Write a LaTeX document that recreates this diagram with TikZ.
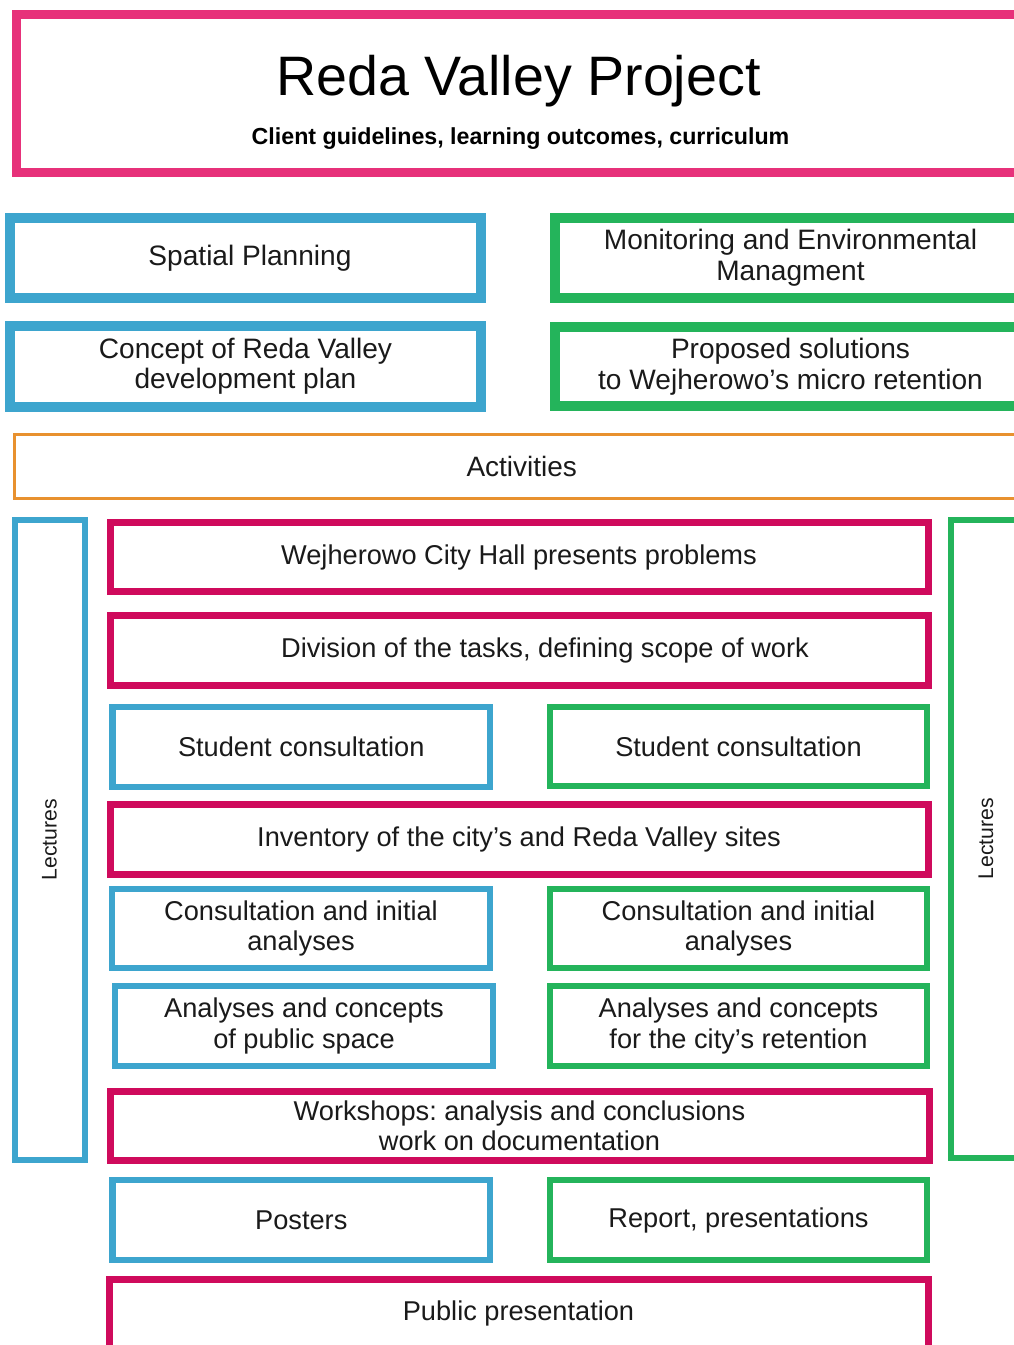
\documentclass[tikz,border=0pt]{standalone}
\usepackage{fontspec}
\setmainfont{Liberation Sans}
\definecolor{pinkT}{HTML}{E7317A}
\definecolor{crim}{HTML}{CF0A5C}
\definecolor{bluec}{HTML}{3DA5CE}
\definecolor{greenc}{HTML}{24B45B}
\definecolor{orangec}{HTML}{E8912F}
\definecolor{txt}{HTML}{1A1A1A}
\tikzset{
  box/.style={draw, rectangle, align=center, inner sep=0pt, text=txt,
    font=\fontsize{27.2}{30.5}\selectfont\frenchspacing},
  bigb/.style={box, line width=10pt, font=\fontsize{28.1}{30.5}\selectfont\frenchspacing},
  rowb/.style={box, line width=6.5pt},
  pinkrow/.style={rowb, draw=crim, line width=7pt},
  bluerow/.style={rowb, draw=bluec},
  greenrow/.style={rowb, draw=greenc},
  lect/.style={box, line width=6pt, rotate=90, font=\fontsize{21.2}{24}\selectfont},
}
\begin{document}
\frenchspacing
\begin{tikzpicture}[x=1pt,y=-1pt]
\useasboundingbox (0,0) rectangle (1014,1345);
\fill[white] (0,0) rectangle (1014,1345);
\clip (0,0) rectangle (1014,1345);

% title
\node[box, draw=pinkT, line width=9pt, minimum width=1005, minimum height=157.5] (title) at (519,93.25) {};
\node[anchor=base, text=black, font=\fontsize{55.6}{60}\selectfont, inner sep=0pt] (ttext) at (518.5,95) {Reda Valley Project};
\node[anchor=base, text=black, font=\fontsize{23.2}{26}\selectfont\bfseries\frenchspacing, inner sep=0pt] (stext) at (520.5,144) {Client guidelines, learning outcomes, curriculum};

% top groups
\node[bigb, draw=bluec, minimum width=471, minimum height=79.5] (spatial) at (245.5,257.75) {\hspace*{9pt}Spatial Planning};
\node[bigb, draw=bluec, minimum width=471, minimum height=80.5] (concept) at (245.5,366.25) {Concept of Reda Valley\\development plan};
\node[bigb, draw=greenc, minimum width=471, minimum height=79.5] (monitor) at (790.5,257.75) {Monitoring and Environmental\\Managment};
\node[bigb, draw=greenc, minimum width=471, minimum height=79] (proposed) at (790.5,366.5) {Proposed solutions\\to Wejherowo’s micro retention};

% activities
\node[box, draw=orangec, line width=3pt, minimum width=1014.5, minimum height=63.5, font=\fontsize{28}{30.5}\selectfont] (activities) at (521.75,466.25) {Activities};

% lectures
\node[lect, draw=bluec, minimum width=639.5, minimum height=70] (lecL) at (49.5,839.75) {Lectures};
\node[lect, draw=greenc, minimum width=637.5, minimum height=70] (lecR) at (986,838.75) {Lectures};

% rows
\node[pinkrow, minimum width=818, minimum height=69] (wejh) at (519,557) {Wejherowo City Hall presents problems};
\node[pinkrow, minimum width=818, minimum height=70] (division) at (519,650) {\hspace*{52pt}Division of the tasks, defining scope of work};
\node[bluerow, minimum width=377.5, minimum height=80] (studL) at (301.25,747) {Student consultation};
\node[greenrow, minimum width=377, minimum height=79] (studR) at (738.5,746.5) {Student consultation};
\node[pinkrow, minimum width=818, minimum height=70] (inventory) at (519,839.5) {Inventory of the city’s and Reda Valley sites};
\node[bluerow, minimum width=378, minimum height=79] (consL) at (301,928.5) {Consultation and initial\\analyses};
\node[greenrow, minimum width=377, minimum height=79] (consR) at (738.5,928.5) {Consultation and initial\\analyses};
\node[bluerow, minimum width=378, minimum height=80] (analL) at (304,1026) {Analyses and concepts\\of public space};
\node[greenrow, minimum width=377, minimum height=80] (analR) at (738.5,1026) {Analyses and concepts\\for the city’s retention};
\node[pinkrow, minimum width=819, minimum height=69.5] (workshops) at (519.5,1125.75) {Workshops: analysis and conclusions\\work on documentation};
\node[bluerow, minimum width=377.5, minimum height=80] (posters) at (301.25,1220) {Posters};
\node[greenrow, minimum width=377, minimum height=80] (report) at (738.5,1220) {Report, presentations};
\node[pinkrow, minimum width=819, minimum height=69] (public) at (518.5,1313.5) {Public presentation};
\end{tikzpicture}
\end{document}
